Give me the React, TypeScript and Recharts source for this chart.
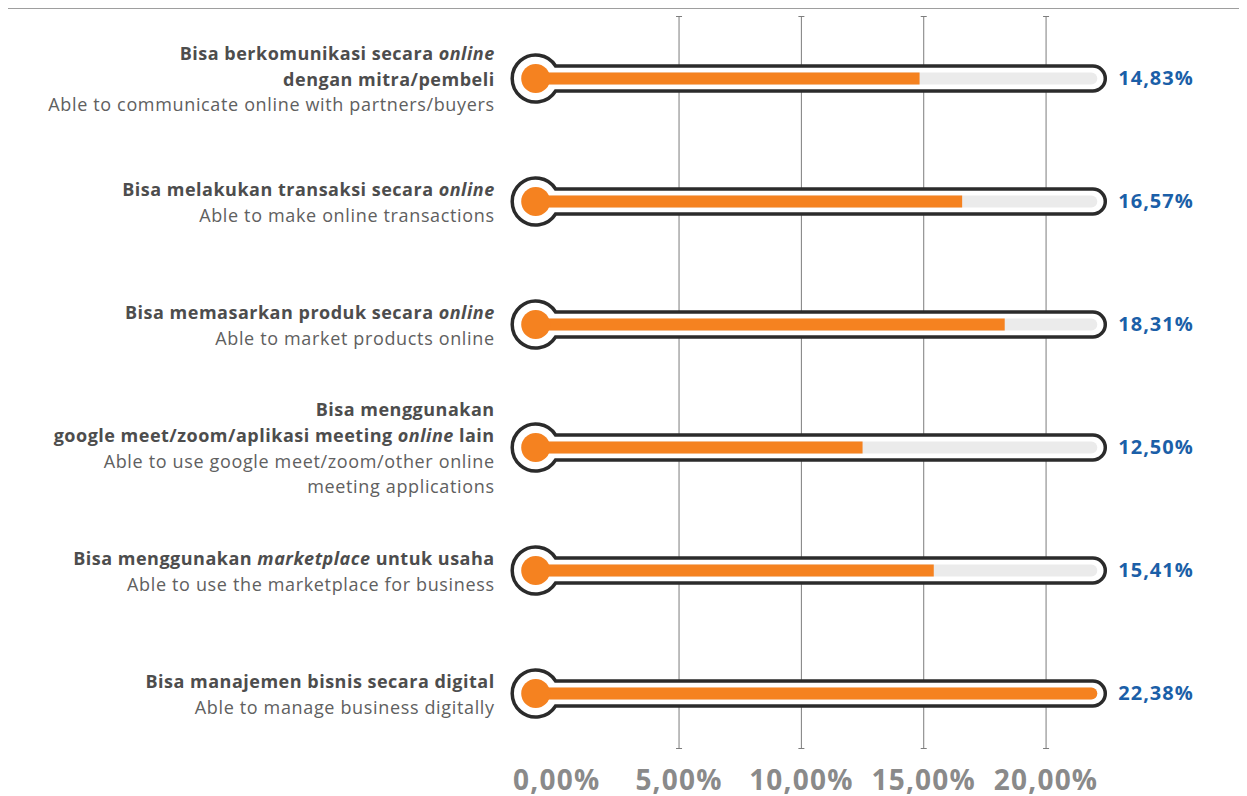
import { BarChart, Bar, XAxis, YAxis, CartesianGrid } from "recharts"

const categories = ["komunikasi", "transaksi", "pemasaran", "meeting", "marketplace", "manajemen"]
const values = [14.83, 16.57, 18.31, 12.5, 15.41, 22.38]
const valueLabels = ["14,83%", "16,57%", "18,31%", "12,50%", "15,41%", "22,38%"]

// _text_ = italic part of a bold line
const labelsId = [
    ["Bisa berkomunikasi secara _online_", "dengan mitra/pembeli"],
    ["Bisa melakukan transaksi secara _online_"],
    ["Bisa memasarkan produk secara _online_"],
    ["Bisa menggunakan", "google meet/zoom/aplikasi meeting _online_ lain"],
    ["Bisa menggunakan _marketplace_ untuk usaha"],
    ["Bisa manajemen bisnis secara digital"],
]
const labelsEn = [
    ["Able to communicate online with partners/buyers"],
    ["Able to make online transactions"],
    ["Able to market products online"],
    ["Able to use google meet/zoom/other online", "meeting applications"],
    ["Able to use the marketplace for business"],
    ["Able to manage business digitally"],
]

const xTicks = [0, 5, 10, 15, 20]
const xTickLabels = ["0,00%", "5,00%", "10,00%", "15,00%", "20,00%"]

const data = categories.map((name, i) => ({ name, value: values[i] }))

const FONT = "'Open Sans', sans-serif"
const ORANGE = "#f58220"

function LeftTick(props: any) {
    const { x, y, payload } = props
    const idx = categories.indexOf(payload.value)
    const lines = [
        ...labelsId[idx].map((t) => ({ t, bold: true })),
        ...labelsEn[idx].map((t) => ({ t, bold: false })),
    ]
    const lh = 25.6
    const startY = y + 1.5 - ((lines.length - 1) * lh) / 2
    return (
        <g>
            {lines.map((ln, i) => (
                <text
                    key={i}
                    x={x - 62}
                    y={startY + i * lh}
                    dy="0.35em"
                    textAnchor="end"
                    fontFamily={FONT}
                    fontSize={18}
                    letterSpacing={ln.bold ? 0.5 : 0.65}
                    fontWeight={ln.bold ? 700 : 400}
                    fill={ln.bold ? "#4d4d4d" : "#606060"}
                >
                    {ln.t.split("_").map((seg, j) => (
                        <tspan key={j} fontStyle={j % 2 === 1 ? "italic" : "normal"}>{seg}</tspan>
                    ))}
                </text>
            ))}
        </g>
    )
}

function RightTick(props: any) {
    const { x, y, payload } = props
    const idx = categories.indexOf(payload.value)
    return (
        <text x={x + 14} y={y} dy="0.35em" fontFamily={FONT} fontSize={20} letterSpacing={1} fontWeight={700} fill="#1b5fa8">
            {valueLabels[idx]}
        </text>
    )
}

function XTick(props: any) {
    const { x, y, payload } = props
    const idx = xTicks.indexOf(payload.value)
    return (
        <text x={x} y={y + 35} textAnchor="middle" fontFamily={FONT} fontSize={28} letterSpacing={1.2} fontWeight={700} fill="#8a8a8a">
            {xTickLabels[idx]}
        </text>
    )
}

function GridLine(props: any) {
    const { x1, y1, y2, x, width } = props
    if (Math.abs(x1 - x) < 1 || Math.abs(x1 - (x + width)) < 1) return <g key={props.key} />
    const bottom = y2 - 6
    return (
        <g key={props.key} stroke="#7d7d7d" strokeWidth={1}>
            <line x1={x1} x2={x1} y1={y1} y2={bottom} />
            <line x1={x1 - 3} x2={x1 + 3} y1={y1} y2={y1} />
            <line x1={x1 - 3} x2={x1 + 3} y1={bottom} y2={bottom} />
        </g>
    )
}

function Thermometer(props: any) {
    const { x, y, width, height, background } = props
    const cy = y + height / 2
    const plotRight = background ? background.x + background.width : x + width
    const bx = x - 21
    const R = 23.5
    const tr = 12.5
    const tubeEnd = plotRight + 1
    const trackEnd = plotRight - 7
    const jx = bx + Math.sqrt(R * R - tr * tr)
    const d = `M${jx},${cy - tr} L${tubeEnd - tr},${cy - tr} A${tr},${tr} 0 0 1 ${tubeEnd - tr},${cy + tr} L${jx},${cy + tr} A${R},${R} 0 1 1 ${jx},${cy - tr} Z`
    const fillEnd = Math.min(x + width, trackEnd)
    const full = fillEnd >= trackEnd - 0.5
    return (
        <g>
            <path d={d} fill="#fff" stroke="#2b2b2b" strokeWidth={3.5} />
            <rect x={bx} y={cy - 6} width={trackEnd - bx} height={12} rx={6} fill="#ebebeb" />
            <rect x={bx} y={cy - 6} width={fillEnd - bx} height={12} rx={full ? 6 : 0} fill={ORANGE} />
            <circle cx={bx} cy={cy} r={14.5} fill={ORANGE} />
        </g>
    )
}

export default function App() {
    return (
        <div style={{ position: "relative", width: 1239, height: 788 }}>
            <div style={{ position: "absolute", top: 0, left: 0, width: 1239, height: 1, background: "#9e9e9e" }} />
            <BarChart
                width={1239}
                height={788}
                data={data}
                layout="vertical"
                margin={{ top: 8.5, right: 0, bottom: 0, left: 0 }}
            >
                <CartesianGrid horizontal={false} vertical={GridLine} />
                <XAxis
                    type="number"
                    domain={[0, "dataMax"]}
                    ticks={xTicks}
                    height={41.5}
                    tickSize={0}
                    tickMargin={0}
                    axisLine={false}
                    tickLine={false}
                    tick={<XTick />}
                    interval={0}
                />
                <YAxis
                    type="category"
                    dataKey="name"
                    width={548.7}
                    tickSize={0}
                    tickMargin={0}
                    axisLine={false}
                    tickLine={false}
                    tick={<LeftTick />}
                    interval={0}
                />
                <YAxis
                    yAxisId="right"
                    orientation="right"
                    type="category"
                    dataKey="name"
                    width={142.7}
                    tickSize={0}
                    tickMargin={0}
                    axisLine={false}
                    tickLine={false}
                    tick={<RightTick />}
                    interval={0}
                />
                <Bar dataKey="value" barSize={12} shape={<Thermometer />} isAnimationActive={false} />
            </BarChart>
        </div>
    )
}
